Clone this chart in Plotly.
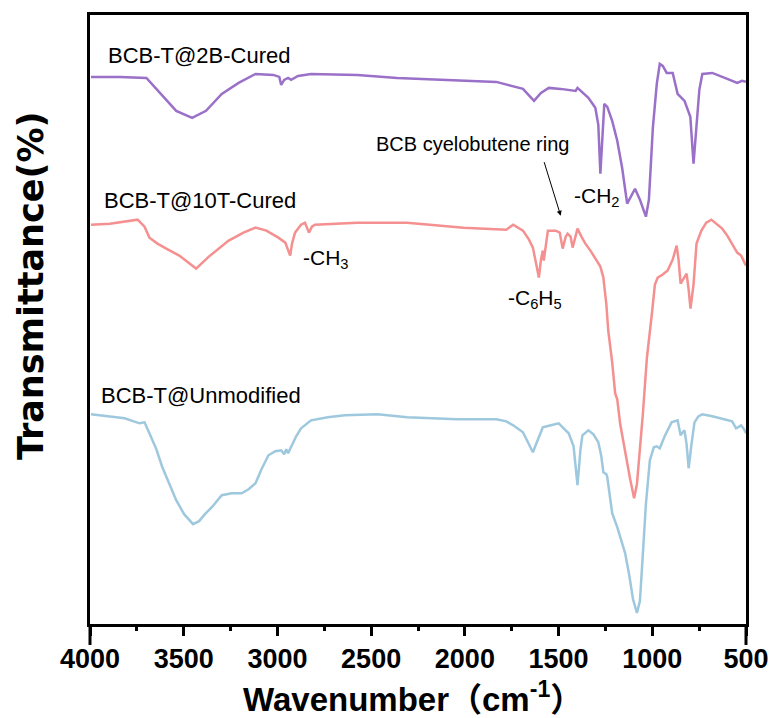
import plotly.graph_objects as go

# ---------------- data (wavenumber cm-1, transmittance a.u. with offsets) ----------------
wn_2b = [3995, 3841, 3699, 3614, 3540, 3455, 3381, 3297, 3207, 3117, 3022, 2990, 2980, 2964,
         2943, 2927, 2890, 2821, 2573, 2361, 2097, 1832, 1690, 1658, 1631, 1594, 1552, 1489,
         1409, 1399, 1383, 1341, 1304, 1288, 1277, 1267, 1256, 1240, 1214, 1187, 1161, 1134,
         1113, 1092, 1066, 1034, 1018, 997, 976, 960, 944, 923, 891, 865, 828, 797, 780, 764,
         749, 733, 680, 600, 547, 521, 500]
t_2b = [548, 548, 547, 529, 514, 507, 514, 531, 542, 551, 550, 548, 540, 545,
        547, 545, 549, 551, 550, 547, 545, 543, 536, 530, 524, 532, 537, 536,
        534, 537, 534, 527, 517, 500, 451, 490, 521, 518, 504, 484, 457, 421,
        428, 436, 425, 408, 425, 497, 541, 561, 559, 552, 552, 531, 524, 508, 461, 500,
        535, 551, 552, 546, 542, 544, 543]

wn_10t = [3995, 3894, 3746, 3709, 3683, 3640, 3593, 3524, 3434, 3366, 3260, 3181, 3117, 3059,
          2995, 2958, 2932, 2921, 2906, 2874, 2853, 2842, 2832, 2816, 2800, 2573, 2308, 2007,
          1779, 1742, 1716, 1690, 1658, 1637, 1621, 1605, 1594, 1584, 1579, 1568, 1557, 1515,
          1494, 1478, 1462, 1452, 1436, 1425, 1409, 1399, 1378, 1357, 1330, 1304, 1277, 1261,
          1245, 1235, 1214, 1198, 1187, 1171, 1145, 1119, 1097, 1082, 1050, 1029, 1002, 986,
          971, 944, 918, 891, 870, 860, 849, 833, 817, 806, 796, 780, 764, 738, 712, 685,
          659, 627, 600, 574, 547, 526, 500]
t_10t = [400, 401, 405, 398, 387, 381, 376, 369, 356, 368, 384, 392, 397, 394,
         387, 382, 369, 382, 392, 400, 402, 397, 392, 398, 400, 402, 402, 397,
         395, 400, 397, 394, 385, 377, 362, 347, 365, 374, 364, 380, 394, 394,
         392, 376, 388, 391, 388, 377, 390, 396, 388, 381, 374, 366, 358, 347,
         320, 294, 262, 231, 225, 200, 171, 146, 126, 140, 211, 266, 311, 340,
         347, 350, 354, 365, 379, 365, 341, 346, 351, 335, 316, 340, 381, 394, 402, 405,
         401, 396, 389, 381, 372, 369, 359]

wn_un = [3995, 3868, 3815, 3736, 3709, 3683, 3646, 3614, 3577, 3540, 3498, 3450, 3418, 3387,
         3350, 3297, 3244, 3191, 3154, 3117, 3085, 3048, 3011, 2980, 2964, 2953, 2943, 2927,
         2900, 2874, 2821, 2731, 2641, 2467, 2308, 2044, 1832, 1779, 1742, 1690, 1663, 1637,
         1616, 1584, 1541, 1499, 1473, 1446, 1420, 1399, 1383, 1373, 1341, 1314, 1288, 1272,
         1261, 1245, 1240, 1214, 1187, 1166, 1145, 1124, 1103, 1082, 1066, 1050, 1034, 1013,
         992, 976, 960, 934, 897, 865, 849, 838, 828, 817, 806, 791, 775, 754, 733, 680,
         616, 574, 553, 526, 510, 500]
t_un = [210, 207, 206, 201, 202, 191, 175, 157, 140, 124, 110, 100, 103, 110,
        117, 129, 131, 131, 135, 141, 155, 169, 173, 174, 170, 175, 171, 177,
        188, 196, 204, 207, 209, 210, 207, 205, 205, 203, 199, 192, 182, 172,
        182, 197, 199, 201, 196, 191, 178, 139, 175, 189, 194, 190, 182, 168,
        152, 150, 147, 111, 97, 85, 71, 50, 25, 11, 23, 71, 120, 164,
        177, 178, 176, 188, 202, 204, 189, 192, 194, 180, 156, 180, 202, 208, 210, 208,
        205, 203, 196, 199, 195, 191]

series_names = ["BCB-T@2B-Cured", "BCB-T@10T-Cured", "BCB-T@Unmodified"]
series_colors = ["#9A70C8", "#F49090", "#9EC8DE"]
x_ticks = [4000, 3500, 3000, 2500, 2000, 1500, 1000, 500]

# ---------------- figure ----------------
W, H = 781, 718
L, R, T, B = 90, 752, 14, 624
PW, PH = R - L, B - T


def px(xp):
    return (xp - L) / PW


def py(yp):
    return (B - yp) / PH


fig = go.Figure()
for xs, ys, name, col in zip([wn_2b, wn_10t, wn_un], [t_2b, t_10t, t_un], series_names, series_colors):
    fig.add_trace(go.Scatter(x=xs, y=ys, mode="lines", name=name,
                             line=dict(color=col, width=2.5), showlegend=False))

FONT = "Arial, Liberation Sans, Noto Sans CJK SC, sans-serif"

fig.update_layout(
    width=W, height=H,
    margin=dict(l=L, r=W - R, t=T, b=H - B, pad=0),
    paper_bgcolor="white", plot_bgcolor="white",
    font=dict(family=FONT, color="black"),
)
fig.update_xaxes(
    range=[4000, 500], tickvals=x_ticks, ticktext=[str(v) for v in x_ticks],
    showgrid=False, zeroline=False, showline=True, linecolor="black", linewidth=3, mirror=True,
    ticks="outside", ticklen=9, tickwidth=3, tickcolor="black",
    tickfont=dict(family=FONT, size=27, color="black", weight="bold"),
    minor=dict(ticks="outside", ticklen=4, tickwidth=3, tickcolor="black", dtick=250, tick0=500),
)
fig.update_yaxes(
    range=[0, PH], showgrid=False, zeroline=False, showticklabels=False, ticks="",
    showline=True, linecolor="black", linewidth=3, mirror=True,
)

# extended frame edges below axis
for xx in (0, 1):
    fig.add_shape(type="line", xref="paper", yref="paper", x0=xx, x1=xx, y0=0, y1=py(645),
                  line=dict(color="black", width=3))

ann = [
    ("BCB-T@2B-Cured", 106, 55, 22),
    ("BCB-T@10T-Cured", 102, 200, 22),
    ("BCB-T@Unmodified", 99, 395, 22),
    ("-CH<sub>3</sub>", 303, 258, 21),
    ("-CH<sub>2</sub>", 576, 196, 21),
    ("-C<sub>6</sub>H<sub>5</sub>", 510, 298, 21),
]
for txt, x0, y0, sz in ann:
    fig.add_annotation(text=txt, xref="paper", yref="paper", x=px(x0), y=py(y0),
                       xanchor="left", yanchor="middle", showarrow=False,
                       font=dict(family=FONT, size=sz, color="black"))

fig.add_annotation(text="BCB cyelobutene ring", xref="paper", yref="paper", x=px(476), y=py(143),
                   xanchor="center", yanchor="middle", showarrow=False,
                   font=dict(family=FONT, size=20, color="black"))
fig.add_annotation(text="", xref="paper", yref="paper", x=px(565), y=py(215),
                   ax=548 - 565, ay=160 - 215, showarrow=True, arrowhead=2, arrowsize=1,
                   arrowwidth=1, arrowcolor="black")

fig.add_annotation(text="<b>Wavenumber（cm<sup>-1</sup>）</b>", xref="paper", yref="paper",
                   x=px(416), y=py(697), xanchor="center", yanchor="middle", showarrow=False,
                   font=dict(family=FONT, size=33, color="black"))
fig.add_annotation(text="<b>Transmittance(%)</b>", xref="paper", yref="paper",
                   x=px(30), y=py(285), xanchor="center", yanchor="middle", showarrow=False,
                   textangle=-90,
                   font=dict(family="DejaVu Sans, sans-serif", size=35, color="black"))

fig.write_html("out.html")
